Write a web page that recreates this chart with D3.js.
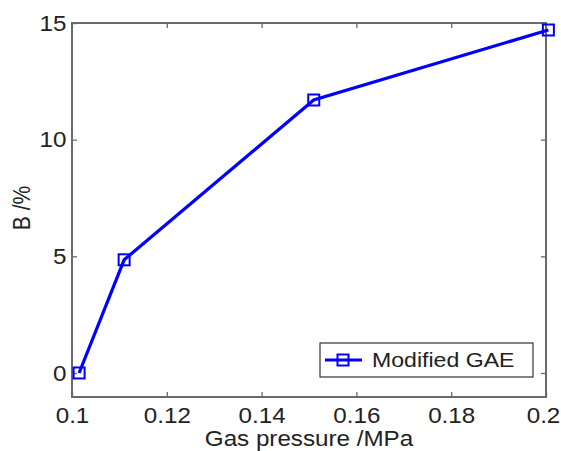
<!DOCTYPE html>
<html>
<head>
<meta charset="utf-8">
<script src="https://cdn.jsdelivr.net/npm/d3@7"></script>
<style>
  body { margin: 0; background: #fff; }
  svg text { font-family: "Liberation Sans", Arial, sans-serif; fill: #222; }
</style>
</head>
<body>
<svg id="chart" width="561" height="451"></svg>
<script>
const pressure = [0.1015, 0.111, 0.151, 0.2005];
const bValues = [0, 4.85, 11.7, 14.7];
const xTicks = [0.1, 0.12, 0.14, 0.16, 0.18, 0.2];
const yTicks = [0, 5, 10, 15];
const seriesName = 'Modified GAE';

const margin = { top: 23, right: 15, bottom: 54, left: 72 };
const width = 561, height = 451;
const stretch = 1.1; // the reference text is a little wider than tall
const svg = d3.select('#chart');

const x = d3.scaleLinear().domain([0.1, 0.2]).range([margin.left, width - margin.right]);
const y = d3.scaleLinear().domain([-1.03, 15]).range([height - margin.bottom, margin.top]);

const axisColor = '#6a6a6a';

// box
svg.append('rect')
    .attr('x', x.range()[0]).attr('y', y.range()[1])
    .attr('width', x.range()[1] - x.range()[0])
    .attr('height', y.range()[0] - y.range()[1])
    .attr('fill', 'none').attr('stroke', axisColor).attr('stroke-width', 2);

// x axis
const xAxis = svg.append('g')
    .attr('transform', `translate(0,${y.range()[0]})`)
    .call(d3.axisBottom(x).tickValues(xTicks).tickFormat(d => String(+d.toFixed(2))).tickSizeInner(-5).tickSizeOuter(0).tickPadding(10));
xAxis.select('.domain').remove();
xAxis.selectAll('line').attr('stroke', axisColor).attr('stroke-width', 1.3);
xAxis.selectAll('text').attr('font-size', 22).attr('dy', '0.75em')
    .attr('transform', (d, i) => `translate(${i === xTicks.length - 1 ? -3 : 0},0) scale(${stretch},1)`);

const xAxisTop = svg.append('g')
    .attr('transform', `translate(0,${y.range()[1]})`)
    .call(d3.axisTop(x).tickValues(xTicks).tickFormat('').tickSizeInner(-5).tickSizeOuter(0));
xAxisTop.select('.domain').remove();
xAxisTop.selectAll('line').attr('stroke', axisColor).attr('stroke-width', 1.3);

// y axis
const yAxis = svg.append('g')
    .attr('transform', `translate(${x.range()[0]},0)`)
    .call(d3.axisLeft(y).tickValues(yTicks).tickSizeInner(-5).tickSizeOuter(0).tickPadding(5));
yAxis.select('.domain').remove();
yAxis.selectAll('line').attr('stroke', axisColor).attr('stroke-width', 1.3);
yAxis.selectAll('text').attr('font-size', 22)
    .attr('transform', `scale(${stretch},1)`);

const yAxisRight = svg.append('g')
    .attr('transform', `translate(${x.range()[1]},0)`)
    .call(d3.axisRight(y).tickValues(yTicks).tickFormat('').tickSizeInner(-5).tickSizeOuter(0));
yAxisRight.select('.domain').remove();
yAxisRight.selectAll('line').attr('stroke', axisColor).attr('stroke-width', 1.3);

// axis labels
svg.append('text')
    .attr('transform', `translate(${(x.range()[0] + x.range()[1]) / 2},446) scale(${stretch},1)`)
    .attr('text-anchor', 'middle')
    .attr('font-size', 22)
    .text('Gas pressure /MPa');

svg.append('text')
    .attr('transform', `translate(30,208) rotate(-90) scale(1,${stretch})`)
    .attr('text-anchor', 'middle')
    .attr('font-size', 21)
    .text('B /%');

// series
const data = pressure.map((p, i) => ({ p, b: bValues[i] }));
const line = d3.line().x(d => x(d.p)).y(d => y(d.b));

svg.append('path')
    .datum(data)
    .attr('d', line)
    .attr('fill', 'none')
    .attr('stroke', '#0000ff')
    .attr('stroke-width', 3.2);

const ms = 11;
svg.selectAll('rect.marker')
    .data(data)
    .join('rect')
    .attr('class', 'marker')
    .attr('x', d => x(d.p) - ms / 2)
    .attr('y', d => y(d.b) - ms / 2)
    .attr('width', ms).attr('height', ms)
    .attr('fill', 'none')
    .attr('stroke', '#0000ff')
    .attr('stroke-width', 2);

// legend
const lg = svg.append('g').attr('transform', 'translate(320,343)');
lg.append('rect')
    .attr('width', 213).attr('height', 34)
    .attr('fill', '#fff').attr('stroke', '#333').attr('stroke-width', 1.2);
lg.append('line')
    .attr('x1', 5).attr('x2', 42).attr('y1', 17).attr('y2', 17)
    .attr('stroke', '#0000ff').attr('stroke-width', 3);
lg.append('rect')
    .attr('x', 23 - ms / 2).attr('y', 17 - ms / 2)
    .attr('width', ms).attr('height', ms)
    .attr('fill', 'none').attr('stroke', '#0000ff').attr('stroke-width', 2);
lg.append('text')
    .attr('transform', `translate(52,17) scale(${stretch},1)`)
    .attr('dy', '0.35em')
    .attr('font-size', 21)
    .text(seriesName);
</script>
</body>
</html>
